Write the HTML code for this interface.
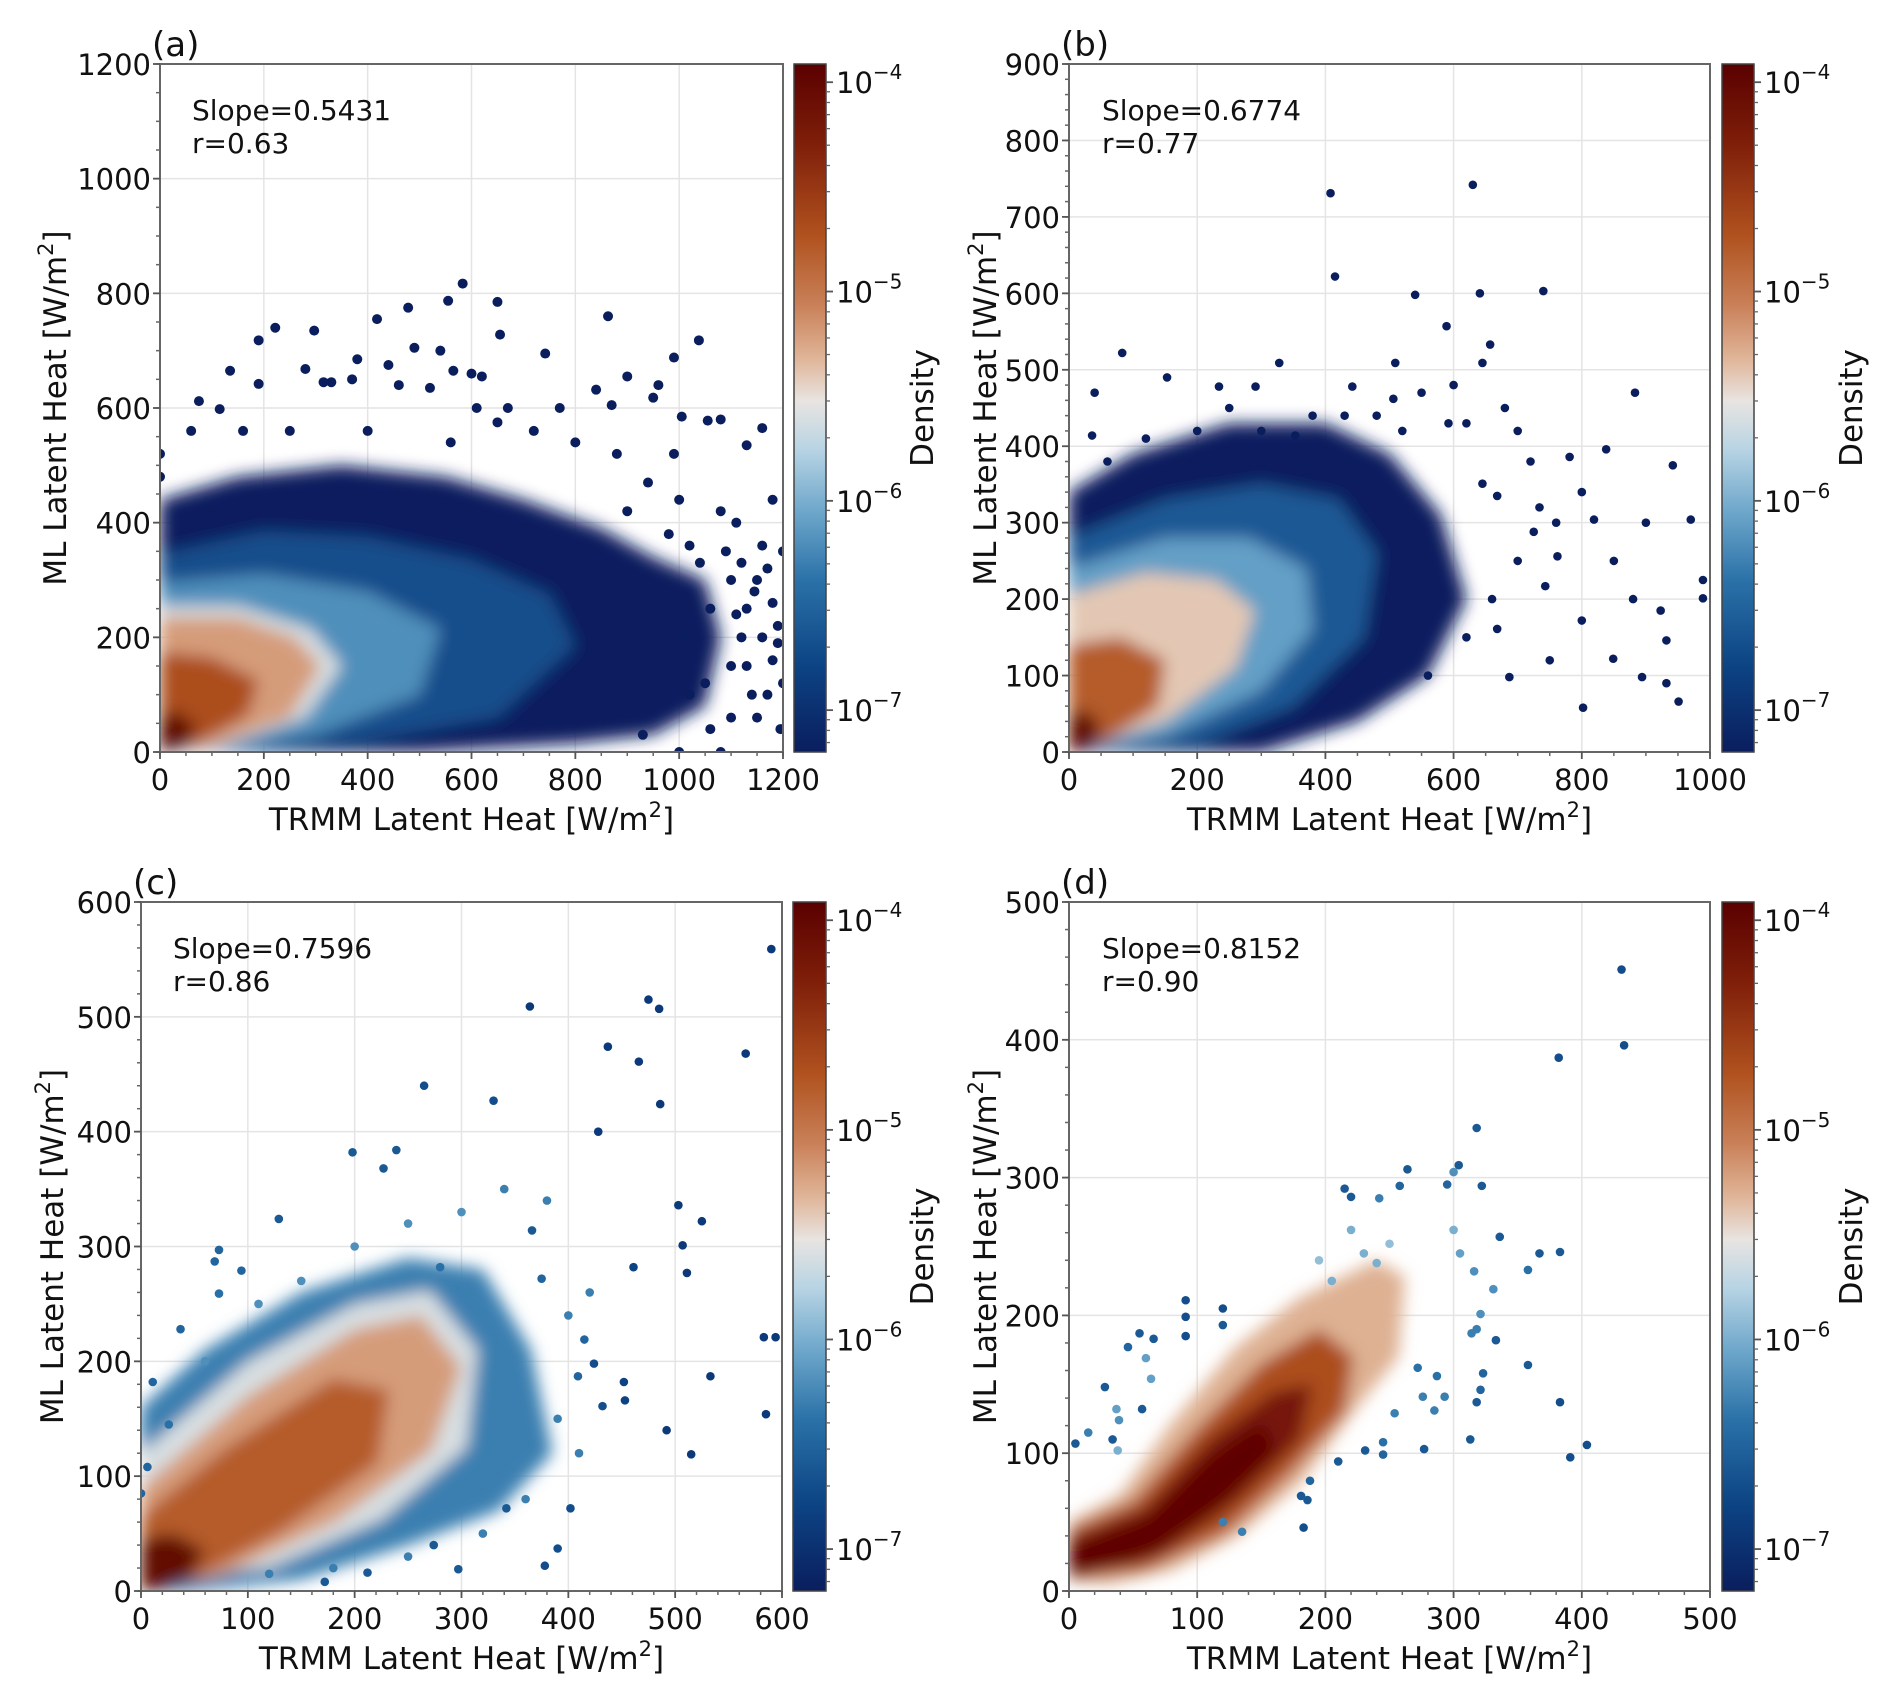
<!DOCTYPE html>
<html><head><meta charset="utf-8">
<style>
html,body{margin:0;padding:0;background:#fff;}
svg{display:block;font-family:"DejaVu Sans","Liberation Sans",sans-serif;}
</style></head>
<body>
<svg id="fig" width="1892" height="1705" viewBox="0 0 1892 1705" xmlns="http://www.w3.org/2000/svg">
<defs>
<linearGradient id="cbgrad" x1="0" y1="0" x2="0" y2="1">
<stop offset="0" stop-color="#5a0000"/>
<stop offset="0.12" stop-color="#80200a"/>
<stop offset="0.25" stop-color="#b0521f"/>
<stop offset="0.35" stop-color="#c98058"/>
<stop offset="0.43" stop-color="#e0b69a"/>
<stop offset="0.49" stop-color="#e8e4e1"/>
<stop offset="0.56" stop-color="#b8d4e4"/>
<stop offset="0.65" stop-color="#6ea7cb"/>
<stop offset="0.75" stop-color="#2b72a8"/>
<stop offset="0.87" stop-color="#0d4585"/>
<stop offset="1" stop-color="#0a1e5e"/>
</linearGradient>
<filter id="blur" x="-20%" y="-20%" width="140%" height="140%"><feGaussianBlur stdDeviation="8"/></filter>
</defs>
</svg>
<script>
// ---------- data ----------
const slopeA = "Slope=0.5431", rA = "r=0.63";
const slopeB = "Slope=0.6774", rB = "r=0.77";
const slopeC = "Slope=0.7596", rC = "r=0.86";
const slopeD = "Slope=0.8152", rD = "r=0.90";

const xTicksA = [0,200,400,600,800,1000,1200], yTicksA = [0,200,400,600,800,1000,1200];
const xTicksB = [0,200,400,600,800,1000], yTicksB = [0,100,200,300,400,500,600,700,800,900];
const xTicksC = [0,100,200,300,400,500,600], yTicksC = [0,100,200,300,400,500,600];
const xTicksD = [0,100,200,300,400,500], yTicksD = [0,100,200,300,400,500];
const cbTicks = [-4,-5,-6,-7];

// density regions: [logDensity, flat polygon x,y,...]
const regionsA = [
 [-7.2,[0,0, 0,440, 150,480, 350,500, 550,480, 700,440, 850,390, 950,340, 1050,300, 1080,200, 1050,80, 950,30, 800,15, 500,0]],
 [-6.7,[0,0, 0,345, 200,385, 400,375, 600,335, 750,275, 800,185, 650,60, 400,20, 200,0]],
 [-6.2,[0,0, 0,295, 200,310, 400,280, 540,215, 500,100, 300,30, 100,0]],
 [-5.6,[0,0, 0,255, 150,255, 290,215, 350,150, 280,60, 100,5]],
 [-5.2,[0,0, 0,235, 150,235, 260,200, 310,150, 250,60, 100,10]],
 [-4.7,[0,0, 0,175, 100,165, 190,125, 170,65, 80,18]],
 [-4.0,[0,0, 0,65, 35,70, 70,45, 55,10, 20,0]]
];
const regionsB = [
 [-7.2,[0,0, 0,340, 100,390, 250,430, 400,430, 500,390, 580,310, 620,200, 560,100, 450,40, 300,0]],
 [-6.6,[0,0, 0,280, 150,330, 300,350, 420,330, 480,260, 460,150, 350,60, 200,10]],
 [-6.1,[0,0, 0,240, 150,280, 280,280, 370,240, 380,160, 300,80, 150,20]],
 [-5.4,[0,0, 0,205, 120,235, 230,225, 290,185, 260,110, 150,40]],
 [-4.8,[0,0, 0,140, 80,150, 150,120, 140,60, 60,15]],
 [-4.0,[0,0, 0,50, 25,55, 50,35, 40,8, 15,0]]
];
const regionsC = [
 [-6.3,[0,0, 0,160, 60,210, 150,260, 250,290, 320,280, 365,210, 385,120, 335,70, 250,40, 150,10, 50,0]],
 [-5.6,[0,10, 0,120, 100,200, 200,250, 270,262, 315,210, 305,125, 225,62, 120,20]],
 [-5.2,[0,0, 0,90, 100,170, 200,228, 262,240, 300,195, 272,122, 182,60, 80,15]],
 [-4.8,[0,0, 0,65, 80,125, 180,185, 232,175, 222,112, 132,52, 50,10]],
 [-4.0,[0,0, 0,45, 30,50, 60,35, 45,10, 15,0]]
];
const regionsD = [
 [-5.3,[0,8, 0,50, 40,70, 80,122, 130,177, 180,213, 240,240, 262,228, 257,170, 222,130, 182,80, 132,40, 80,15, 30,5]],
 [-4.7,[0,8, 0,45, 50,65, 100,118, 150,165, 195,190, 222,170, 215,130, 172,85, 122,42, 60,15]],
 [-4.2,[0,10, 0,38, 60,60, 110,110, 160,145, 190,150, 180,110, 130,65, 70,25]],
 [-3.95,[0,12, 0,32, 60,52, 110,97, 150,122, 162,102, 112,56, 50,20]]
];

// outlier points [x,y] and their log density
const pointsA = [[583,817],[555,787],[650,785],[655,728],[478,775],[418,755],[297,735],[222,740],[190,718],[863,760],[1038,718],[990,688],[742,695],[380,685],[490,705],[540,700],[440,675],[280,668],[135,665],[600,660],[620,655],[565,665],[900,655],[840,632],[950,618],[520,635],[460,640],[1005,585],[1160,565],[1130,535],[770,600],[870,605],[610,600],[670,600],[75,612],[115,598],[190,642],[330,645],[315,645],[370,650],[1055,578],[1080,580],[1180,440],[1110,400],[1200,350],[1150,300],[1190,190],[1170,100],[1195,40],[1100,60],[1050,120],[1120,200],[990,520],[960,640],[0,520],[0,480],[1145,280],[1180,260],[1190,220],[1100,300],[1060,250],[1010,200],[1130,150],[1160,360],[1080,420],[1000,440],[940,470],[880,520],[800,540],[720,560],[650,575],[560,540],[400,560],[250,560],[160,560],[60,560],[1020,100],[1200,120],[1150,60],[930,30],[1000,0],[1080,0],[1120,330],[1040,330],[980,380],[900,420],[1090,350],[1130,250],[1170,320],[1100,150],[1140,100],[1060,40],[1180,160],[1020,360],[1110,240],[1160,200]];
const densA = pointsA.map(()=>-7.2);
const pointsB = [[408,731],[630,742],[415,622],[641,600],[740,603],[540,598],[589,557],[657,533],[883,470],[781,386],[838,396],[942,375],[970,304],[989,225],[989,201],[923,185],[932,146],[932,90],[951,66],[894,98],[849,122],[802,58],[800,172],[762,256],[819,304],[734,320],[743,217],[687,98],[668,161],[645,351],[592,430],[509,509],[442,478],[328,509],[234,478],[153,490],[83,522],[40,470],[36,414],[506,462],[353,414],[291,478],[645,509],[668,335],[725,288],[550,470],[600,480],[700,420],[720,380],[680,450],[620,430],[800,340],[760,300],[850,250],[700,250],[660,200],[620,150],[560,100],[750,120],[900,300],[880,200],[480,440],[430,440],[380,440],[300,420],[200,420],[120,410],[60,380],[250,450],[520,420]];
const densB = pointsB.map(()=>-7.2);
const pointsC = [[590,559],[475,515],[485,507],[364,509],[566,468],[437,474],[466,461],[428,400],[486,424],[503,336],[507,301],[511,277],[525,322],[583,221],[594,221],[585,154],[533,187],[492,140],[515,119],[452,182],[453,166],[461,282],[424,198],[402,72],[378,22],[390,37],[297,19],[172,8],[212,16],[274,40],[239,384],[227,368],[198,382],[129,324],[94,279],[73,297],[69,287],[73,259],[37,228],[11,182],[26,145],[6,108],[0,85],[366,314],[330,427],[265,440],[280,282],[375,272],[415,219],[342,72],[432,161],[409,187],[400,240],[420,260],[380,340],[340,350],[300,330],[250,320],[200,300],[150,270],[110,250],[60,200],[390,150],[410,120],[360,80],[320,50],[250,30],[180,20],[120,15]];
const densC = [-6.9,-6.9,-6.9,-6.9,-6.9,-6.9,-6.9,-6.9,-6.9,-6.9,-6.9,-6.9,-6.9,-6.9,-6.9,-6.9,-6.9,-6.9,-6.9,-6.8,-6.8,-6.8,-6.7,-6.7,-6.7,-6.7,-6.6,-6.6,-6.6,-6.6,-6.6,-6.6,-6.6,-6.6,-6.5,-6.5,-6.5,-6.4,-6.5,-6.5,-6.4,-6.5,-6.5,-6.6,-6.7,-6.7,-6.4,-6.5,-6.5,-6.6,-6.7,-6.5,-6.3,-6.3,-6.3,-6.3,-6.2,-6.2,-6.2,-6.2,-6.2,-6.2,-6.3,-6.3,-6.3,-6.3,-6.3,-6.3,-6.3];
const pointsD = [[431,451],[433,396],[382,387],[318,336],[304,309],[264,306],[322,294],[215,292],[220,286],[242,285],[258,294],[295,295],[300,304],[336,257],[367,245],[383,246],[358,233],[331,219],[316,232],[321,201],[318,190],[314,187],[333,182],[358,164],[323,158],[321,146],[318,137],[313,110],[383,137],[404,106],[391,97],[272,162],[287,156],[276,141],[293,141],[285,131],[277,103],[254,129],[245,108],[245,99],[231,102],[210,94],[188,80],[186,66],[181,69],[183,46],[135,43],[120,50],[91,211],[91,199],[91,185],[120,205],[120,193],[55,187],[46,177],[66,183],[60,169],[64,154],[57,132],[37,132],[39,124],[34,110],[28,148],[15,115],[5,107],[38,102],[220,262],[230,245],[250,252],[240,238],[205,225],[195,240],[300,262],[305,245]];
const densD = [-6.7,-6.7,-6.7,-6.6,-6.6,-6.6,-6.6,-6.6,-6.6,-6.3,-6.5,-6.5,-6.2,-6.6,-6.6,-6.6,-6.4,-6.2,-6.2,-6.2,-6.3,-6.3,-6.6,-6.6,-6.5,-6.5,-6.6,-6.6,-6.7,-6.7,-6.7,-6.4,-6.4,-6.3,-6.3,-6.3,-6.6,-6.3,-6.4,-6.5,-6.6,-6.6,-6.5,-6.6,-6.6,-6.7,-6.3,-6.3,-6.7,-6.7,-6.7,-6.7,-6.6,-6.6,-6.5,-6.6,-6.1,-6.1,-6.6,-6.1,-6.2,-6.6,-6.6,-6.3,-6.6,-6.0,-6.0,-6.0,-5.9,-6.0,-6.0,-5.9,-6.0,-6.1];

// ---------- rendering ----------
const NS = "http://www.w3.org/2000/svg";
const svg = document.getElementById('fig');
const CB_MIN = -7.2, CB_MAX = -3.913;
const stops = [[0,"#5a0000"],[0.12,"#80200a"],[0.25,"#b0521f"],[0.35,"#c98058"],[0.43,"#e0b69a"],[0.49,"#e8e4e1"],[0.56,"#b8d4e4"],[0.65,"#6ea7cb"],[0.75,"#2b72a8"],[0.87,"#0d4585"],[1,"#0a1e5e"]];
function hex(h){return [1,3,5].map(i=>parseInt(h.substr(i,2),16));}
function cmap(ld){
  let f = 1-(ld-CB_MIN)/(CB_MAX-CB_MIN); f=Math.max(0,Math.min(1,f));
  for(let i=0;i<stops.length-1;i++){
    if(f<=stops[i+1][0]){
      const a=hex(stops[i][1]), b=hex(stops[i+1][1]);
      const t=(f-stops[i][0])/(stops[i+1][0]-stops[i][0]);
      return "rgb("+a.map((v,k)=>Math.round(v+(b[k]-v)*t)).join(",")+")";
    }
  }
  return stops[stops.length-1][1];
}
function el(tag, attrs, parent){
  const e=document.createElementNS(NS,tag);
  for(const k in attrs) e.setAttribute(k,attrs[k]);
  (parent||svg).appendChild(e); return e;
}
function txt(s, attrs, parent){const e=el('text',attrs,parent); e.textContent=s; return e;}

function panel(cfg){
  const {id,L,R,T,B,xmax,ymax,xt,yt,xminor,yminor,regions,pts,dens,r,slope,rr,cbL,cbR,label,textX,ytitleX,cbTitleX} = cfg;
  const g = el('g',{});
  
  
  const sx = v => L + v/xmax*(R-L);
  const sy = v => B - v/ymax*(B-T);
  const cid='clip'+id;
  const cp = el('clipPath',{id:cid},g); el('rect',{x:L,y:T,width:R-L,height:B-T},cp);
  const grid = el('g',{},g);
  
  
  xt.forEach(v=>el('line',{x1:sx(v),x2:sx(v),y1:T,y2:B,stroke:'#e4e4e4','stroke-width':1.5},grid));
  yt.forEach(v=>el('line',{x1:L,x2:R,y1:sy(v),y2:sy(v),stroke:'#e4e4e4','stroke-width':1.5},grid));
  const rg = el('g',{'clip-path':'url(#'+cid+')'},g);
  const rg2 = el('g',{filter:'url(#blur)'},rg);
  
  
  regions.forEach(([ld,poly])=>{
    const p=[]; for(let i=0;i<poly.length;i+=2) p.push(sx(poly[i]).toFixed(1)+','+sy(poly[i+1]).toFixed(1));
    const pe = el('polygon',{points:p.join(' '),fill:cmap(ld)},rg2);
    
    
  });
  const pg = el('g',{'clip-path':'url(#'+cid+')'},g);
  pts.forEach((p,i)=>{
    const c = el('circle',{cx:sx(p[0]),cy:sy(p[1]),r:r,fill:cmap(dens[i])},pg);
    
    
  });
  const sp = el('rect',{x:L,y:T,width:R-L,height:B-T,fill:'none',stroke:'#666','stroke-width':2},g);
  
  
  for(let v=0; v<=xmax+1e-6; v+=xminor) el('line',{x1:sx(v),x2:sx(v),y1:B,y2:B+4,stroke:'#666','stroke-width':1.5},g);
  for(let v=0; v<=ymax+1e-6; v+=yminor) el('line',{x1:L-4,x2:L,y1:sy(v),y2:sy(v),stroke:'#666','stroke-width':1.5},g);
  xt.forEach(v=>{
    el('line',{x1:sx(v),x2:sx(v),y1:B,y2:B+7,stroke:'#555','stroke-width':1.8},g);
    const t=txt(String(v),{x:sx(v),y:B+38,'font-size':29,'text-anchor':'middle',fill:'#111'},g);
    
    
  });
  yt.forEach(v=>{
    el('line',{x1:L-7,x2:L,y1:sy(v),y2:sy(v),stroke:'#555','stroke-width':1.8},g);
    const t=txt(String(v),{x:L-9,y:sy(v)+11,'font-size':29,'text-anchor':'end',fill:'#111'},g);
    
    
  });
  const xtitle = txt('',{x:(L+R)/2,y:B+78,'font-size':31,'text-anchor':'middle',fill:'#111'},g);
  
  
  xtitle.innerHTML='TRMM Latent Heat [W/m<tspan font-size="21" dy="-13">2</tspan><tspan dy="13">]</tspan>';
  const ytitle = txt('',{x:0,y:0,'font-size':31,'text-anchor':'middle',fill:'#111',transform:'translate('+(ytitleX+11)+','+((T+B)/2)+') rotate(-90)'},g);
  
  
  ytitle.innerHTML='ML Latent Heat [W/m<tspan font-size="21" dy="-13">2</tspan><tspan dy="13">]</tspan>';
  const pl = txt(label,{x:L-8,y:T-8,'font-size':34,fill:'#111'},g);
  
  
  const st = txt(slope,{x:textX,y:T+56,'font-size':28,fill:'#111'},g);
  
  
  const rt = txt(rr,{x:textX,y:T+89,'font-size':28,fill:'#111'},g);
  
  
  const cb = el('rect',{x:cbL,y:T,width:cbR-cbL,height:B-T,fill:'url(#cbgrad)',stroke:'#444','stroke-width':1.5},g);
  
  
  const cy = ld => T + (CB_MAX-ld)/(CB_MAX-CB_MIN)*(B-T);
  for(let d=-8; d<=-4; d++){
    for(let m=2;m<=9;m++){
      const ld = d+Math.log10(m);
      if(ld>CB_MIN && ld<CB_MAX) el('line',{x1:cbR,x2:cbR+4,y1:cy(ld),y2:cy(ld),stroke:'#666','stroke-width':1.3},g);
    }
  }
  cbTicks.forEach(d=>{
    el('line',{x1:cbR,x2:cbR+7,y1:cy(d),y2:cy(d),stroke:'#555','stroke-width':1.8},g);
    const t = txt('',{x:cbR+10,y:cy(d)+11,'font-size':29,fill:'#111'},g);
    
    
    t.innerHTML='10<tspan font-size="20" dy="-14">\u2212'+(-d)+'</tspan>';
  });
  const ct = txt('Density',{x:0,y:0,'font-size':31,'text-anchor':'middle',fill:'#111',transform:'translate('+(cbTitleX+11)+','+((T+B)/2)+') rotate(-90)'},g);
  
  
}

panel({id:'a',L:160,R:783,T:64,B:752,xmax:1200,ymax:1200,xt:xTicksA,yt:yTicksA,xminor:50,yminor:50,regions:regionsA,pts:pointsA,dens:densA,r:5,slope:slopeA,rr:rA,cbL:794,cbR:826,label:'(a)',textX:192,ytitleX:55,cbTitleX:922});
panel({id:'b',L:1069,R:1710,T:64,B:752,xmax:1000,ymax:900,xt:xTicksB,yt:yTicksB,xminor:50,yminor:20,regions:regionsB,pts:pointsB,dens:densB,r:4.3,slope:slopeB,rr:rB,cbL:1722,cbR:1754,label:'(b)',textX:1102,ytitleX:985,cbTitleX:1851});
panel({id:'c',L:141,R:782,T:902,B:1591,xmax:600,ymax:600,xt:xTicksC,yt:yTicksC,xminor:20,yminor:20,regions:regionsC,pts:pointsC,dens:densC,r:4.3,slope:slopeC,rr:rC,cbL:793,cbR:826,label:'(c)',textX:173,ytitleX:52,cbTitleX:922});
panel({id:'d',L:1069,R:1710,T:902,B:1591,xmax:500,ymax:500,xt:xTicksD,yt:yTicksD,xminor:20,yminor:20,regions:regionsD,pts:pointsD,dens:densD,r:4.3,slope:slopeD,rr:rD,cbL:1722,cbR:1754,label:'(d)',textX:1102,ytitleX:985,cbTitleX:1851});
</script>
</body></html>
